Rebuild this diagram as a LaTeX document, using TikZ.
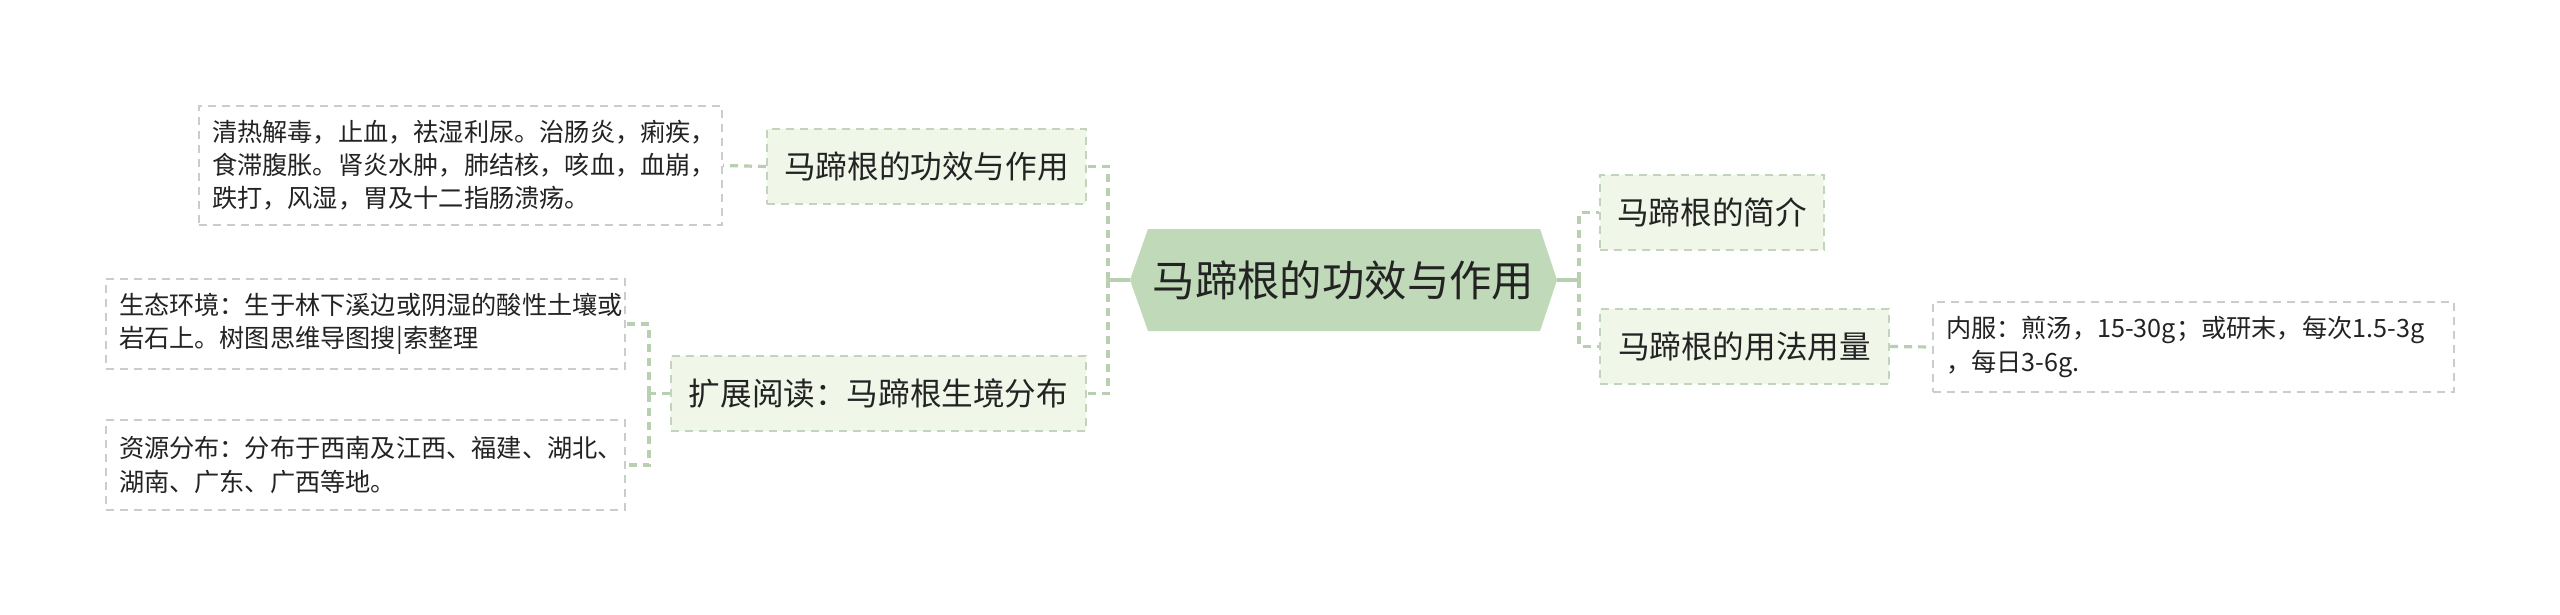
\documentclass[tikz,border=0pt]{standalone}
\usepackage{fontspec}
\setmainfont{Noto Sans CJK SC}
\usetikzlibrary{calc}
\hfuzz=50pt
\hbadness=10000
\definecolor{ctrfill}{RGB}{192,218,185}
\definecolor{brfill}{RGB}{240,246,232}
\definecolor{brline}{RGB}{194,212,188}
\definecolor{conline}{RGB}{184,207,178}
\definecolor{lfline}{RGB}{200,206,200}
\definecolor{txt}{RGB}{35,35,35}
\begin{document}
\begin{tikzpicture}[x=0.5pt,y=-0.5pt,
  dashpat/.style={dash pattern=on 4pt off 3pt},
  branchbox/.style={draw=brline, fill=brfill, line width=1pt, dashpat, text=txt,
    font=\fontsize{15.8pt}{19pt}\selectfont, inner sep=0pt, minimum height=37.5pt},
  leafbox/.style={draw=lfline, fill=white, line width=1pt, dashpat, text=txt,
    font=\fontsize{12.6pt}{16.6pt}\selectfont, inner xsep=6.5pt, inner ysep=0pt, align=left},
  conn/.style={draw=conline, line width=1.6pt, dashpat},
  solidconn/.style={draw=conline, line width=1.8pt}]
\fill[white] (0,0) rectangle (2560,615);
\useasboundingbox (0,0) rectangle (2560,615);
% center hexagon
\fill[ctrfill] (1130,280) -- (1148,229) -- (1540,229) -- (1557,280) -- (1540,331) -- (1148,331) -- cycle;
\node[text=txt, font=\fontsize{21.2pt}{25pt}\selectfont, inner sep=0pt] (ctr) at (1343.5,280) {马蹄根的功效与作用};
\coordinate (cL) at (1130,280);
\coordinate (cR) at (1557,280);
\coordinate (jL) at (1108,280);
\coordinate (jR) at (1579,280);
% branches
\node[branchbox, minimum width=159.5pt] (b1) at (926.5,166.5) {马蹄根的功效与作用};
\node[branchbox, minimum width=207.5pt] (b2) at (878.5,393.5) {扩展阅读：马蹄根生境分布};
\node[branchbox, minimum width=112pt] (r1) at (1712,212.5) {马蹄根的简介};
\node[branchbox, minimum width=144.5pt] (r2) at (1744.5,346.5) {马蹄根的用法用量};
% leaves
\node[leafbox, minimum width=261.5pt, minimum height=59.5pt, text width=248.5pt] (l1) at (460.5,165.5)
  {清热解毒，止血，祛湿利尿。治肠炎，痢疾，\\食滞腹胀。肾炎水肿，肺结核，咳血，血崩，\\跌打，风湿，胃及十二指肠溃疡。};
\node[leafbox, minimum width=259.5pt, minimum height=45pt, text width=246.5pt] (l2a) at (365.5,324)
  {生态环境：生于林下溪边或阴湿的酸性土壤或\\岩石上。树图思维导图搜|索整理};
\node[leafbox, minimum width=259.5pt, minimum height=45pt, text width=246.5pt] (l2b) at (365.5,465)
  {资源分布：分布于西南及江西、福建、湖北、\\湖南、广东、广西等地。};
\node[leafbox, minimum width=260.5pt, minimum height=45pt, text width=247.5pt] (rl) at (2193.5,347)
  {内服：煎汤，15-30g；或研末，每次1.5-3g\\，每日3-6g.};
\coordinate (j2) at (649,393.5);
% connectors
\draw[solidconn] (cL) -- (jL);
\draw[solidconn] (cR) -- (jR);
\draw[conn] (jL) |- (b1.east);
\draw[conn] (jL) |- (b2.east);
\draw[conn] (jR) |- (r1.west);
\draw[conn] (jR) |- (r2.west);
\draw[conn] (b1.west) -- (l1.east);
\draw[conn] (b2.west) -- (j2);
\draw[conn] (j2) |- (l2a.east);
\draw[conn] (j2) |- (l2b.east);
\draw[conn] (r2.east) -- (rl.west);
\end{tikzpicture}
\end{document}
